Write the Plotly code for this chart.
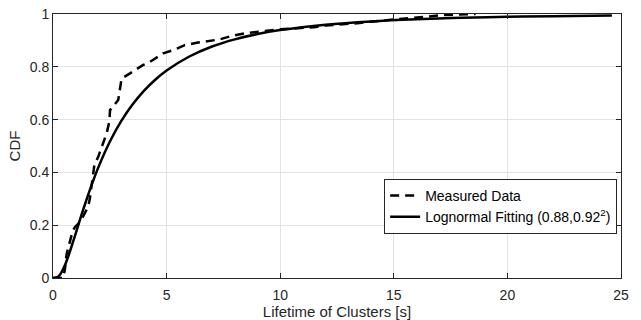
import plotly.graph_objects as go

meas_x = [0, 0.45, 0.53, 0.6, 0.87, 0.97, 1.19, 1.45, 1.55, 1.62, 1.70, 1.77, 1.82, 1.99,
          2.21, 2.36, 2.48, 2.51, 2.87, 2.95, 3.02, 3.39, 3.97, 4.27, 4.85, 5.29, 5.8,
          6.32, 6.84, 7.35, 7.86, 8.52, 10.0, 10.9, 11.5, 12.0, 12.5, 13.0, 13.5, 14.1,
          14.5, 15.5, 16.2, 16.6, 17.2, 17.6, 18.2, 18.6]
meas_y = [0, 0.0, 0.036, 0.09, 0.18, 0.193, 0.212, 0.25, 0.27, 0.30, 0.345, 0.383, 0.427, 0.459,
          0.51, 0.548, 0.592, 0.636, 0.674, 0.711, 0.756, 0.775, 0.807, 0.819, 0.851, 0.863, 0.882,
          0.891, 0.899, 0.904, 0.917, 0.928, 0.942, 0.947, 0.950, 0.956, 0.959, 0.963, 0.966, 0.972,
          0.975, 0.982, 0.99, 0.992, 0.996, 0.997, 1.0, 1.0]

# Lognormal fitting curve
fit_x = [0, 0.25, 0.5, 0.75, 1, 1.25, 1.5, 1.75, 2, 2.5, 3, 3.5, 4, 4.5, 5, 6, 7, 8, 9, 10,
         12, 14, 16, 18, 20, 22, 24.6]
fit_y = [0, 0.007, 0.044, 0.102, 0.169, 0.238, 0.303, 0.364, 0.420, 0.516, 0.594, 0.657,
         0.709, 0.751, 0.786, 0.839, 0.877, 0.904, 0.924, 0.939, 0.9595, 0.972, 0.980,
         0.9856, 0.9893, 0.9919, 0.9942]

x_ticks = [0, 5, 10, 15, 20, 25]
y_ticks = [0, 0.2, 0.4, 0.6, 0.8, 1]
y_tick_text = ["0", "0.2", "0.4", "0.6", "0.8", "1"]

FONT = "Liberation Sans, Arial, sans-serif"
TXT = "#262626"

fig = go.Figure()
fig.add_trace(go.Scatter(x=meas_x, y=meas_y, mode="lines", name="Measured Data",
                         line=dict(color="black", width=2.5, dash="9px,6px")))
fig.add_trace(go.Scatter(x=fit_x, y=fit_y, mode="lines",
                         name="Lognormal Fitting (0.88,0.92<sup>2</sup>)",
                         line=dict(color="black", width=2.5, shape="spline")))

axis_common = dict(showline=True, linecolor=TXT, linewidth=1, mirror="ticks",
                   ticks="inside", ticklen=5, tickcolor=TXT, showgrid=True,
                   gridcolor="#e3e3e3", gridwidth=1, zeroline=False, automargin=False,
                   tickfont=dict(family=FONT, size=14, color=TXT))

fig.update_xaxes(range=[0, 25], tickvals=x_ticks, ticklabelstandoff=4,
                 title=dict(text="Lifetime of Clusters [s]", standoff=4,
                            font=dict(family=FONT, size=15, color=TXT)),
                 **axis_common)
fig.update_yaxes(range=[0, 1], tickvals=y_ticks, ticktext=y_tick_text,
                 title=dict(text="CDF", standoff=5,
                            font=dict(family=FONT, size=15, color=TXT)),
                 **axis_common)

fig.update_layout(
    width=641, height=320,
    margin=dict(l=53, r=20, t=14, b=42),
    paper_bgcolor="white", plot_bgcolor="white",
    font=dict(family=FONT, size=14, color=TXT),
    legend=dict(x=0.583, y=0.375, xanchor="left", yanchor="top",
                bgcolor="white", bordercolor=TXT, borderwidth=1,
                font=dict(family=FONT, size=14, color="black"),
                tracegroupgap=0, itemwidth=30),
    showlegend=True,
)

fig.write_html("out.html")
